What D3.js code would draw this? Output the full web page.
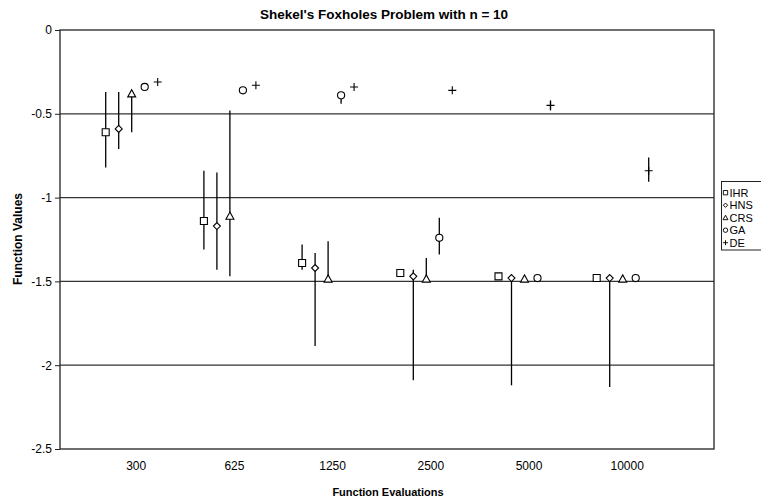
<!DOCTYPE html>
<html>
<head>
<meta charset="utf-8">
<script src="https://cdn.jsdelivr.net/npm/d3@7"></script>
<style>
  body { margin: 0; background: #fff; }
  svg { display: block; font-family: "Liberation Sans", Arial, sans-serif; }
</style>
</head>
<body>
<div id="chart"></div>
<script>
// categories and series
const categories = ["300", "625", "1250", "2500", "5000", "10000"];
const seriesNames = ["IHR", "HNS", "CRS", "GA", "DE"];
const yTicks = [0, -0.5, -1, -1.5, -2, -2.5];

// mean values per series
const ihrValues = [-0.61, -1.14, -1.39, -1.45, -1.47, -1.48];
const hnsValues = [-0.59, -1.17, -1.42, -1.47, -1.48, -1.48];
const crsValues = [-0.38, -1.11, -1.485, -1.485, -1.485, -1.485];
const gaValues  = [-0.34, -0.36, -0.39, -1.24, -1.48, -1.48];
const deValues  = [-0.31, -0.33, -0.34, -0.36, -0.45, -0.84];

// error bar ends (low, high), null = no bar
const ihrLow  = [-0.82, -1.31, -1.43, null, null, null];
const ihrHigh = [-0.37, -0.84, -1.28, null, null, null];
const hnsLow  = [-0.71, -1.43, -1.885, -2.09, -2.12, -2.13];
const hnsHigh = [-0.37, -0.85, -1.33, -1.43, -1.47, -1.47];
const crsLow  = [-0.61, -1.47, -1.48, -1.48, null, null];
const crsHigh = [-0.36, -0.48, -1.26, -1.36, null, null];
const gaLow   = [null, null, -0.44, -1.34, null, null];
const gaHigh  = [null, null, -0.37, -1.12, null, null];
const deLow   = [null, null, null, null, -0.48, -0.905];
const deHigh  = [null, null, null, null, -0.42, -0.76];

const values = [ihrValues, hnsValues, crsValues, gaValues, deValues];
const lows = [ihrLow, hnsLow, crsLow, gaLow, deLow];
const highs = [ihrHigh, hnsHigh, crsHigh, gaHigh, deHigh];

const W = 761, H = 499;
const plot = { left: 60, right: 714, top: 30, bottom: 449 };

const svg = d3.select("#chart").append("svg")
  .attr("width", W).attr("height", H);

const y = d3.scaleLinear().domain([-2.5, 0]).range([plot.bottom, plot.top]);
const x = d3.scalePoint().domain(categories).range([131.7, 622.7]);
const offset = d3.scalePoint().domain(seriesNames).range([-26, 26]);

// gridlines
svg.append("g")
  .selectAll("line")
  .data(yTicks.slice(1, -1))
  .enter().append("line")
  .attr("x1", plot.left).attr("x2", plot.right)
  .attr("y1", d => y(d)).attr("y2", d => y(d))
  .attr("stroke", "#333").attr("stroke-width", 1.3);

// frame
svg.append("rect")
  .attr("x", plot.left).attr("y", plot.top)
  .attr("width", plot.right - plot.left)
  .attr("height", plot.bottom - plot.top)
  .attr("fill", "none").attr("stroke", "#222").attr("stroke-width", 1.3);

// y axis
const yAxis = svg.append("g")
  .attr("transform", `translate(${plot.left},0)`)
  .call(d3.axisLeft(y).tickValues(yTicks).tickSize(5).tickPadding(3).tickFormat(d => String(d)));
yAxis.select(".domain").remove();
yAxis.selectAll("line").attr("stroke", "#222");
yAxis.selectAll("text").attr("font-size", 12).attr("fill", "#000")
  .attr("font-family", "Liberation Sans, Arial, sans-serif");

// x axis labels
const xAxis = svg.append("g")
  .attr("transform", `translate(4,${plot.bottom})`)
  .call(d3.axisBottom(x).tickSize(0).tickPadding(12));
xAxis.select(".domain").remove();
xAxis.selectAll("text").attr("font-size", 12).attr("fill", "#000")
  .attr("font-family", "Liberation Sans, Arial, sans-serif");

// build point table
const points = [];
seriesNames.forEach((s, i) => {
  categories.forEach((c, j) => {
    points.push({ series: s, cat: c, v: values[i][j], lo: lows[i][j], hi: highs[i][j] });
  });
});

const px = d => x(d.cat) + offset(d.series);

// error bars
svg.append("g")
  .selectAll("line")
  .data(points.filter(d => d.lo !== null))
  .enter().append("line")
  .attr("x1", px).attr("x2", px)
  .attr("y1", d => y(d.lo)).attr("y2", d => y(d.hi))
  .attr("stroke", "#000").attr("stroke-width", 1.3);

// markers
function markerPath(name) {
  if (name === "IHR") return "M-3.5,-3.5H3.5V3.5H-3.5Z";
  if (name === "HNS") return "M0,-3.5L3.5,0L0,3.5L-3.5,0Z";
  if (name === "CRS") return "M0,-4L4,3.2H-4Z";
  if (name === "GA") return d3.symbol(d3.symbolCircle, 40)();
  return "M-4,0H4M0,-4V4";
}

function drawMarker(sel, sw) {
  sel.append("path")
    .attr("d", d => markerPath(d.series))
    .attr("fill", d => d.series === "DE" ? "none" : "#fff")
    .attr("stroke", "#000").attr("stroke-width", sw || 1.1);
}

svg.append("g")
  .selectAll("g")
  .data(points)
  .enter().append("g")
  .attr("transform", d => `translate(${px(d)},${y(d.v)})`)
  .call(drawMarker);

// legend
const legend = svg.append("g");
legend.append("rect")
  .attr("x", 721.5).attr("y", 181.5)
  .attr("width", 60).attr("height", 68.5)
  .attr("fill", "#fff").attr("stroke", "#222").attr("stroke-width", 1);

const legItems = legend.selectAll("g.item")
  .data(seriesNames)
  .enter().append("g")
  .attr("class", "item")
  .attr("transform", (d, i) => `translate(0,${192.7 + i * 12.5})`);
legItems.append("g")
  .attr("transform", "translate(725.5,0) scale(0.62)")
  .datum(d => ({ series: d }))
  .call(drawMarker, 1.5);
legItems.append("text")
  .attr("x", 729.5).attr("y", 0).attr("dy", "0.36em")
  .attr("font-size", 11)
  .text(d => d);

// titles
svg.append("text")
  .attr("x", 384).attr("y", 19)
  .attr("text-anchor", "middle")
  .attr("font-size", 13.5).attr("font-weight", "bold")
  .text("Shekel's Foxholes Problem with n = 10");

svg.append("text")
  .attr("x", 388).attr("y", 496)
  .attr("text-anchor", "middle")
  .attr("font-size", 11).attr("font-weight", "bold")
  .text("Function Evaluations");

svg.append("text")
  .attr("transform", "rotate(-90)")
  .attr("x", -239).attr("y", 22)
  .attr("text-anchor", "middle")
  .attr("font-size", 12).attr("font-weight", "bold")
  .text("Function Values");
</script>
</body>
</html>
